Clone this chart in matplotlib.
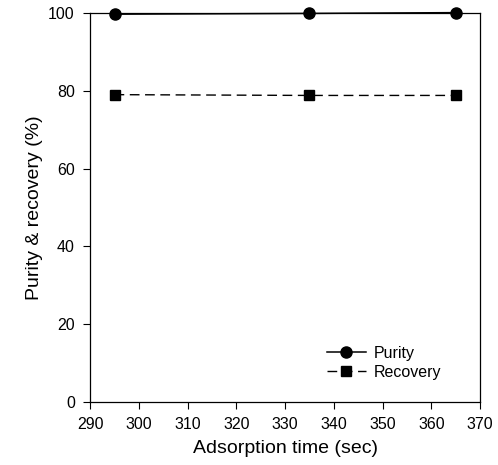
import matplotlib
matplotlib.use('Agg')
import matplotlib.pyplot as plt

# adsorption time (sec)
times = [295, 335, 365]
purity = [99.7, 99.9, 100.1]
recovery = [79.0, 78.8, 78.8]

plt.rcParams['font.family'] = ['Liberation Sans', 'DejaVu Sans']

fig = plt.figure(figsize=(4.98, 4.65), dpi=100)
ax = fig.add_axes([0.181, 0.136, 0.783, 0.836])

ax.plot(times, purity, color='black', linestyle='-', linewidth=1.1,
        marker='o', markersize=8, label='Purity', clip_on=False, zorder=3)
ax.plot(times, recovery, color='black', linestyle=(0, (7, 4)), linewidth=1.0,
        marker='s', markersize=7, label='Recovery', clip_on=False, zorder=3)

ax.set_xlim(290, 370)
ax.set_ylim(0, 100)
ax.set_xticks(range(290, 371, 10))
ax.set_yticks(range(0, 101, 20))
ax.tick_params(direction='out', length=5, width=0.8, labelsize=11.5, pad=6)
for s in ax.spines.values():
    s.set_linewidth(0.9)

ax.set_xlabel('Adsorption time (sec)', fontsize=14, labelpad=6)
ax.set_ylabel('Purity & recovery (%)', fontsize=14, labelpad=4)

ax.legend(loc='lower right', bbox_to_anchor=(0.937, 0.02), frameon=False,
          fontsize=11.5, handlelength=2.4, handletextpad=0.5, labelspacing=0.25)

plt.savefig('out.png', dpi=100)
